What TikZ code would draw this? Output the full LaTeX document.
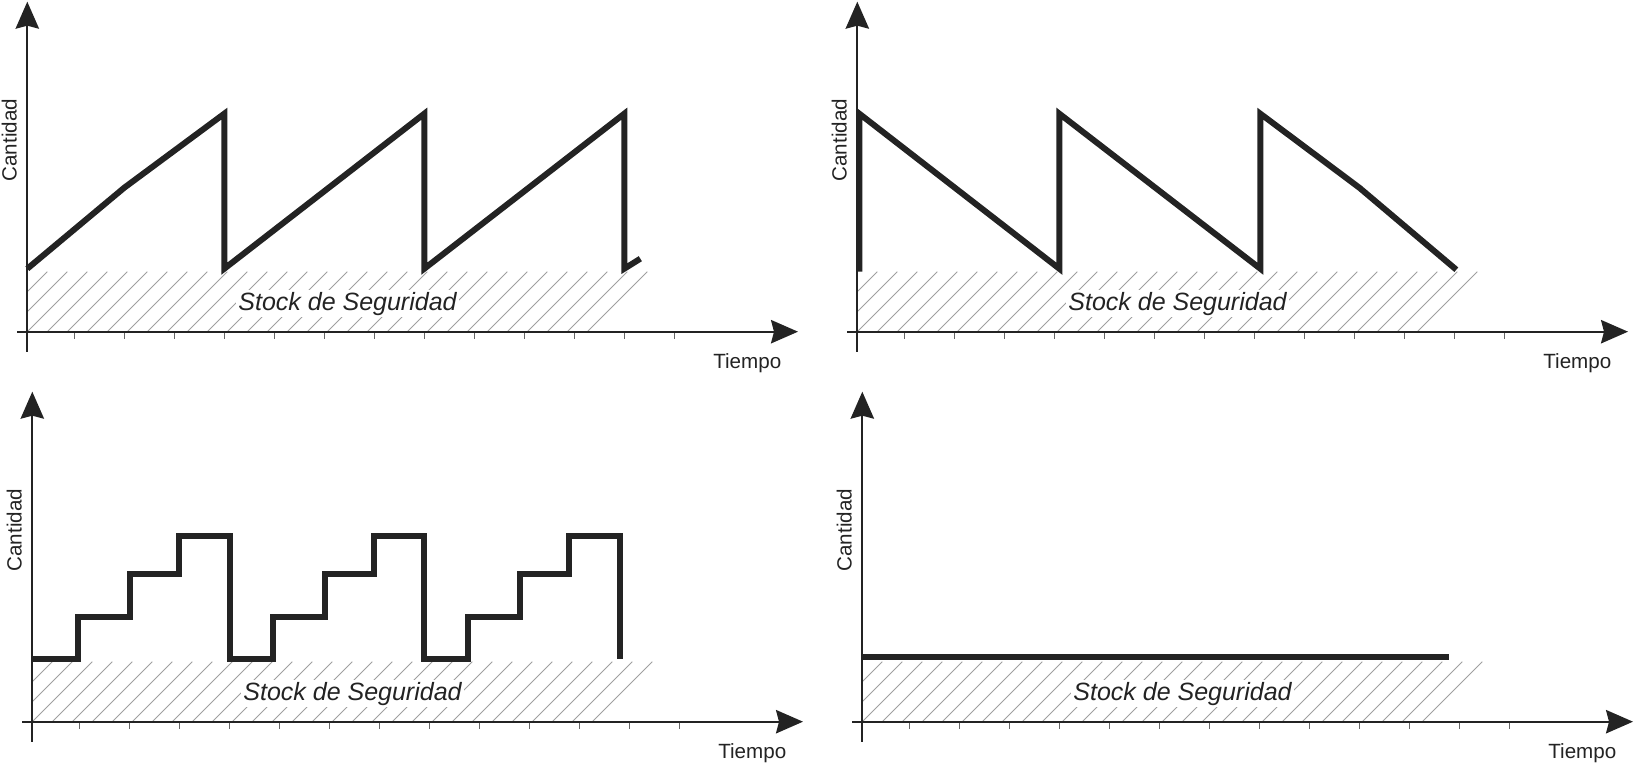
\documentclass[tikz,border=0pt]{standalone}
\usepackage{fontspec}
\setmainfont{Liberation Sans}
\usetikzlibrary{arrows.meta}
\definecolor{ink}{RGB}{35,35,35}

\begin{document}
\begin{tikzpicture}[x=0.5pt,y=0.5pt,
  axis/.style={draw=ink,line width=1pt,-{Stealth[length=13.5pt,width=11.7pt,inset=1.5pt]}},
  tickmark/.style={draw=gray!80!black,line width=0.5pt},
  hatchline/.style={draw=gray!75,line width=0.5pt},
  level/.style={draw=ink,line width=3pt},
  stocklabel/.style={fill=white,inner sep=1pt,text=ink,font=\fontsize{12.5}{14}\selectfont\itshape},
  axislabel/.style={inner sep=0pt,text=ink,font=\fontsize{10.3}{12}\selectfont}]
\useasboundingbox (0,0) rectangle (1636,764);
% Axes, ticks and safety stock (the same in the four panels)
\foreach \p/\ox/\oy in {a/27.3/432.3, b/857.3/432.3, c/32.3/42.3, d/862.3/42.3}{
\begin{scope}[shift={(\ox,\oy)}]
  \begin{scope}
    \clip (0,0) rectangle (700,60);
    \foreach \k in {-3,...,28} \draw[hatchline] (20*\k,0)--(20*\k+60,60);
  \end{scope}
  \foreach \k in {0,...,12} \draw[tickmark] (47+50*\k,0)--(47+50*\k,-7);
  \draw[axis] (-10,0)--(770.7,0);
  \draw[axis] (0,-20)--(0,330);
  \node[stocklabel,anchor=base] (stock-\p) at (320.2,21.5) {Stock de Seguridad};
  \node[axislabel,anchor=base,rotate=90] (qty-\p) at (-10.6,191.5) {Cantidad};
  \node[axislabel,anchor=base] (time-\p) at (720,-37) {Tiempo};
\end{scope}}
% Top left: gradual filling
\begin{scope}[shift={(27.3,432.3)}]
  \draw[level] (0,63)--(97,144)--(197,218)--(197,63)--(397,218)--(397,63)--(597,218)--(597,63)--(613,73);
\end{scope}
% Top right: gradual emptying
\begin{scope}[shift={(857.3,432.3)}]
  \draw[level] (2,60)--(2,218)--(202,63)--(202,218)--(403,63)--(403,218)--(502,144)--(599,62);
\end{scope}
% Bottom left: filling in steps
\begin{scope}[shift={(32.3,42.3)}]
  \draw[level] (0,63)--(46,63)--(46,105)--(98,105)--(98,148)--(147,148)--(147,186)--(198,186)--(198,63)
    --(241,63)--(241,105)--(293,105)--(293,148)--(342,148)--(342,186)--(392,186)--(392,63)
    --(436,63)--(436,105)--(488,105)--(488,148)--(537,148)--(537,186)--(588,186)--(588,63);
\end{scope}
% Bottom right: constant level
\begin{scope}[shift={(862.3,42.3)}]
  \draw[level] (0,64.7)--(587,64.7);
\end{scope}
\end{tikzpicture}
\end{document}
